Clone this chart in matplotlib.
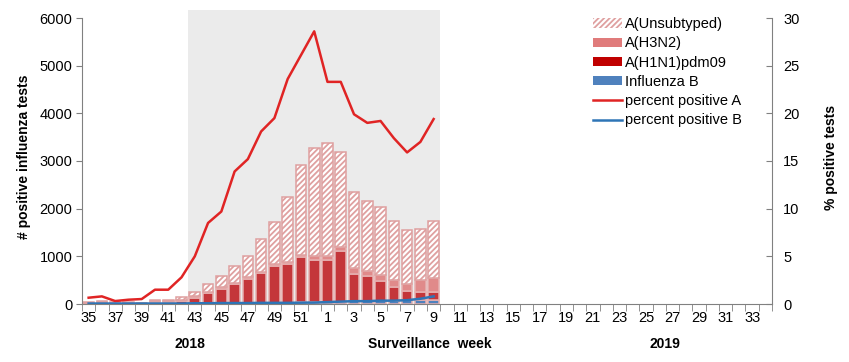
import matplotlib
matplotlib.use("Agg")
import matplotlib.pyplot as plt
import numpy as np
from matplotlib.patches import Patch, Rectangle
from matplotlib.lines import Line2D

plt.rcParams['font.family'] = ['Liberation Sans', 'DejaVu Sans']
plt.rcParams['hatch.linewidth'] = 1.3

weeks = list(range(35, 53)) + list(range(1, 35))
tick_labels = [str(w) if i % 2 == 0 else "" for i, w in enumerate(weeks)]

# stacked segments (weeks 35..52, 1..9); remaining weeks have no data
flu_b = [5, 5, 5, 5, 5, 5, 10, 10, 15, 15, 20, 20, 20, 25, 25, 30, 35, 40,
         45, 50, 55, 60, 65, 70, 75, 80, 90]
h1n1 = [10, 15, 10, 10, 5, 35, 30, 50, 118, 215, 302, 407, 511, 632, 779, 809, 958, 890,
        885, 1069, 574, 534, 418, 294, 205, 172, 162]
h3n2 = [10, 20, 10, 10, 10, 20, 20, 30, 32, 30, 28, 23, 29, 14, 42, 49, 42, 70,
        70, 84, 119, 91, 118, 139, 133, 245, 286]
unsub = [15, 20, 15, 15, 10, 20, 20, 60, 80, 150, 240, 340, 440, 694, 869, 1362, 1890, 2275,
         2370, 1977, 1612, 1485, 1444, 1232, 1132, 1068, 1197]
pct_a = [0.66, 0.8, 0.31, 0.45, 0.52, 1.5, 1.5, 2.8, 5.0, 8.5, 9.7, 13.9, 15.2, 18.1, 19.5, 23.6, 26.1, 28.6,
         23.3, 23.3, 19.9, 19.0, 19.2, 17.4, 15.9, 17.0, 19.4]
pct_b = [0.05, 0.05, 0.05, 0.05, 0.05, 0.05, 0.05, 0.05, 0.08, 0.08, 0.1, 0.1, 0.1, 0.12, 0.12, 0.12, 0.14, 0.15,
         0.2, 0.25, 0.3, 0.3, 0.35, 0.35, 0.4, 0.55, 0.8]

season_start, season_end = 7.5, 26.5

fig = plt.figure(figsize=(8.49, 3.62), dpi=100)
ax = fig.add_axes([82 / 849, 1 - 304 / 362, (772 - 82) / 849, (304 - 10) / 362])
ax2 = ax.twinx()

n = len(flu_b)
x = np.arange(n)
ax.set_xlim(-0.5, len(weeks) - 0.5)
ymax = 6000 * 294 / 286
ax.set_ylim(0, ymax)
ax2.set_ylim(0, 30 * 294 / 286)

ax.add_patch(Rectangle((season_start, 0), season_end - season_start, ymax,
                       facecolor='#EBEBEB', edgecolor='none', zorder=0))

edge = '#E6B0B0'
w = 0.8
b = np.array(flu_b, float)
h1 = np.array(h1n1, float)
h3 = np.array(h3n2, float)
un = np.array(unsub, float)
ax.bar(x, b, w, color='#4F81BD', edgecolor=edge, linewidth=1.1, zorder=2)
ax.bar(x, h1, w, bottom=b, color='#C4363A', edgecolor=edge, linewidth=1.1, zorder=2)
ax.bar(x, h3, w, bottom=b + h1, color='#E08A8A', edgecolor=edge, linewidth=1.1, zorder=2)
ax.bar(x, un, w, bottom=b + h1 + h3, color='white', edgecolor='#DFA0A0', hatch='//////',
       linewidth=1.1, zorder=2)

ax2.plot(x, pct_a, color='#E02424', lw=1.8, zorder=3)
ax2.plot(x, pct_b, color='#2E75B6', lw=1.8, zorder=3)

# axes styling
for a in (ax, ax2):
    a.spines['top'].set_visible(False)
ax.spines['right'].set_visible(False)
ax2.spines['left'].set_visible(False)
ax2.spines['bottom'].set_visible(False)
ax.spines['left'].set_bounds(0, 6000)
ax2.spines['right'].set_bounds(0, 30)
for s in ('left', 'bottom'):
    ax.spines[s].set_color('#808080')
ax2.spines['right'].set_color('#808080')

ax.set_yticks(range(0, 6001, 1000))
ax.tick_params(axis='y', direction='out', length=4, color='#808080', labelsize=10.5, pad=3)
ax2.set_yticks(range(0, 31, 5))
ax2.tick_params(axis='y', direction='in', length=4, color='#808080', labelsize=10.5, pad=8)

ax.set_xticks(np.arange(len(weeks)))
ax.set_xticklabels(tick_labels)
ax.tick_params(axis='x', which='major', length=0, labelsize=10.5, pad=5)
ax.set_xticks(np.arange(len(weeks) + 1) - 0.5, minor=True)
ax.tick_params(axis='x', which='minor', direction='out', length=5, color='#808080')

ax.set_ylabel('# positive influenza tests', fontsize=10, fontweight='bold', labelpad=6)
ax2.set_ylabel('% positive tests', fontsize=10, fontweight='bold', labelpad=18)

fig.text(190 / 849, 1 - 344 / 362, '2018', ha='center', va='center', fontsize=10, fontweight='bold')
fig.text(430 / 849, 1 - 344 / 362, 'Surveillance  week', ha='center', va='center', fontsize=10,
         fontweight='bold')
fig.text(665 / 849, 1 - 344 / 362, '2019', ha='center', va='center', fontsize=10, fontweight='bold')

handles = [
    Patch(facecolor='white', edgecolor='#DFA0A0', hatch='//////', linewidth=0),
    Patch(facecolor='#E07B7B', edgecolor='none'),
    Patch(facecolor='#C00000', edgecolor='none'),
    Patch(facecolor='#4F81BD', edgecolor='none'),
    Line2D([], [], color='#E02424', lw=1.8),
    Line2D([], [], color='#2E75B6', lw=1.8),
]
labels = ['A(Unsubtyped)', 'A(H3N2)', 'A(H1N1)pdm09', 'Influenza B',
          'percent positive A', 'percent positive B']
leg = ax2.legend(handles, labels, loc='upper left', bbox_to_anchor=(583 / 849, 1 - 7 / 362),
                 bbox_transform=fig.transFigure, frameon=False, fontsize=10.5,
                 handlelength=2.0, handleheight=0.6, handletextpad=0.2, labelspacing=0.36,
                 borderpad=0.2)

fig.savefig('out.png', dpi=100)
